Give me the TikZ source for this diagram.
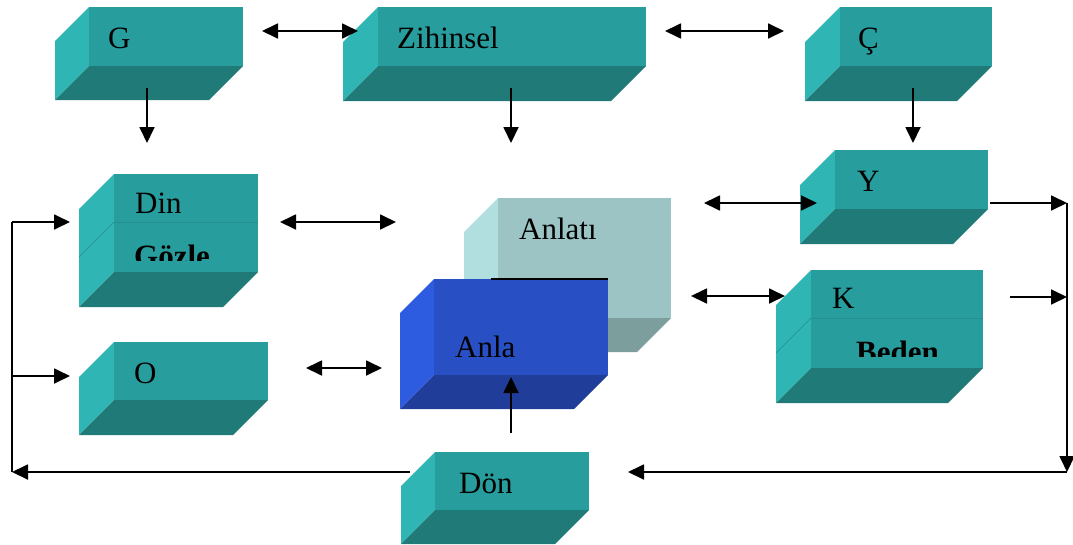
\documentclass[tikz,border=0pt]{standalone}
\usepackage{fontspec}
\setmainfont{Liberation Serif}
\usetikzlibrary{arrows.meta}

\definecolor{tealfront}{HTML}{289D9D}
\definecolor{tealside}{HTML}{30B5B5}
\definecolor{tealbottom}{HTML}{1F7A78}
\definecolor{tealline}{HTML}{238F8F}
\definecolor{greyfront}{HTML}{9CC4C4}
\definecolor{greyside}{HTML}{B1DFDF}
\definecolor{greybottom}{HTML}{7C9E9C}
\definecolor{bluefront}{HTML}{2850C4}
\definecolor{blueside}{HTML}{2E5CE0}
\definecolor{bluebottom}{HTML}{203E99}

% box: name, front left, top, front right, front bottom, depth, front, side, bottom colour
\newcommand{\tbox}[9]{%
  \fill [#8] (#2,#3) -- (#2-#6,#3+#6) -- (#2-#6,#5+#6) -- (#2,#5) -- cycle;
  \fill [#9] (#2,#5) -- (#4,#5) -- (#4-#6,#5+#6) -- (#2-#6,#5+#6) -- cycle;
  \node (#1) at (#2,#3) [anchor=north west,fill=#7,inner sep=0pt,
    minimum width={#4pt-#2pt},minimum height={#5pt-#3pt}] {};
}

\tikzset{
  arr/.style={line width=1.8pt,-{Triangle[length=16pt,width=15pt]}},
  darr/.style={line width=1.8pt,{Triangle[length=16pt,width=15pt]}-{Triangle[length=16pt,width=15pt]}},
  line/.style={line width=1.8pt},
  lbl/.style={anchor=base west,inner sep=0pt}
}

\begin{document}
\begin{tikzpicture}
    [x=1pt,y=-1pt,font=\fontsize{31}{36}\selectfont]
    \useasboundingbox (0,0) rectangle (1073,544);

    % boxes
    \tbox{g}{89}{7}{243}{66}{34}{tealfront}{tealside}{tealbottom}
    \tbox{zihinsel}{378}{7}{646}{66}{35}{tealfront}{tealside}{tealbottom}
    \tbox{c}{840}{7}{992}{66}{35}{tealfront}{tealside}{tealbottom}
    \tbox{din}{114}{174}{258}{272}{35}{tealfront}{tealside}{tealbottom}
    \draw [tealline,line width=1pt] (114,222) -- (258,222);
    \draw [tealline,line width=0.5pt] (114,222) -- (79,257);
    \tbox{y}{835}{150}{988}{209}{35}{tealfront}{tealside}{tealbottom}
    \tbox{k}{811}{270}{983}{368}{35}{tealfront}{tealside}{tealbottom}
    \draw [tealline,line width=1pt] (811,318) -- (983,318);
    \draw [tealline,line width=0.5pt] (811,318) -- (776,353);
    \tbox{o}{114}{342}{268}{400}{35}{tealfront}{tealside}{tealbottom}
    \tbox{don}{435}{452}{589}{510}{34}{tealfront}{tealside}{tealbottom}
    \tbox{anlati}{498}{198}{671}{318}{34}{greyfront}{greyside}{greybottom}
    \tbox{anla}{434}{279}{608}{375}{34}{bluefront}{blueside}{bluebottom}
    \draw [line width=1.5pt] (491,279) -- (608,279);

    % texts
    \node (gt) at (108,48) [lbl] {G};
    \node (zihinselt) at (397,48) [lbl] {Zihinsel};
    \node (ct) at (858,48) [lbl] {Ç};
    \node (dint) at (135,213) [lbl] {Din};
    \begin{scope}
      \clip (114,222) rectangle (258,260);
      \node (gozlet) at (134,266) [lbl] {\textbf{Gözle}};
    \end{scope}
    \node (anlatit) at (519,239) [lbl] {Anlatı};
    \node (anlat) at (455,357) [lbl] {Anla};
    \node (yt) at (857,191) [lbl] {Y};
    \node (kt) at (832,308) [lbl] {K};
    \begin{scope}
      \clip (811,318) rectangle (983,356);
      \node (bedent) at (856,362) [lbl] {\textbf{Beden}};
    \end{scope}
    \node (ot) at (134,383) [lbl] {O};
    \node (dont) at (459,493) [lbl] {Dön};

    % arrow ends
    \coordinate (gz1) at (262,31);
    \coordinate (gz2) at (358,31);
    \coordinate (zc1) at (665,31);
    \coordinate (zc2) at (784,31);
    \coordinate (gd1) at (147,88);
    \coordinate (gd2) at (147,143);
    \coordinate (zd1) at (511,88);
    \coordinate (zd2) at (511,143);
    \coordinate (cd1) at (913,88);
    \coordinate (cd2) at (913,143);
    \coordinate (da1) at (280,222);
    \coordinate (da2) at (396,222);
    \coordinate (ay1) at (704,203);
    \coordinate (ay2) at (817,203);
    \coordinate (ak1) at (691,296);
    \coordinate (ak2) at (785,296);
    \coordinate (oa1) at (306,368);
    \coordinate (oa2) at (382,368);
    \coordinate (yr1) at (990,203);
    \coordinate (yr2) at (1067,203);
    \coordinate (kr1) at (1010,297);
    \coordinate (kr2) at (1067,297);
    \coordinate (rb) at (1067,472);
    \coordinate (bb) at (628,472);
    \coordinate (du1) at (511,433);
    \coordinate (du2) at (511,377);
    \coordinate (dl) at (410,472);
    \coordinate (lb) at (12,472);
    \coordinate (lt) at (12,222);
    \coordinate (lo) at (12,376);
    \coordinate (ld) at (70,222);
    \coordinate (loo) at (70,376);

    % arrows
    \draw [darr] (gz1) to (gz2);
    \draw [darr] (zc1) to (zc2);
    \draw [arr] (gd1) to (gd2);
    \draw [arr] (zd1) to (zd2);
    \draw [arr] (cd1) to (cd2);
    \draw [darr] (da1) to (da2);
    \draw [darr] (ay1) to (ay2);
    \draw [darr] (ak1) to (ak2);
    \draw [darr] (oa1) to (oa2);
    \draw [arr] (yr1) to (yr2);
    \draw [arr] (kr1) to (kr2);
    \draw [arr] (yr2) to (rb);
    \draw [arr] (rb) to (bb);
    \draw [arr] (du1) to (du2);
    \draw [arr] (dl) to (lb);
    \draw [line] (lt) to (lb);
    \draw [arr] (lt) to (ld);
    \draw [arr] (lo) to (loo);
  \end{tikzpicture}
\end{document}
